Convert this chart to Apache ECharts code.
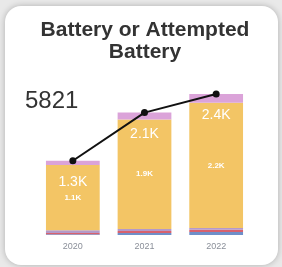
<!DOCTYPE html>
<html lang="en">
<head>
    <meta charset="UTF-8">
    <title>Battery or Attempted Battery</title>
    <script src="https://cdn.jsdelivr.net/npm/echarts@6/dist/echarts.min.js"></script>
    <style>
        html, body { margin: 0; padding: 0; background: #e9e9e9; }
        #main { width: 282px; height: 267px; }
    </style>
</head>
<body>
<div id="main"></div>
<script>
    // data
    var years = ['2020', '2021', '2022'];
    var blueVals   = [15, 35, 50];
    var redVals    = [20, 35, 40];
    var purpleVals = [45, 35, 30];
    var yellowVals = [1125, 1885, 2160];
    var pinkVals   = [75, 120, 151];
    var grandTotal = 5821;

    var totals = years.map(function (y, i) {
        return blueVals[i] + redVals[i] + purpleVals[i] + yellowVals[i] + pinkVals[i];
    });

    function fmtK(v) {
        return (v / 1000).toFixed(1) + 'K';
    }

    function stackBar(name, data, color, label) {
        return {
            name: name,
            type: 'bar',
            stack: 'total',
            barWidth: '75%',
            data: data,
            itemStyle: { color: color },
            label: label || { show: false },
            silent: true
        };
    }

    var chart = echarts.init(document.getElementById('main'));
    var option = {
        backgroundColor: '#e9e9e9',
        animation: false,
        graphic: [
            {
                type: 'rect',
                z: -10,
                shape: { x: 5, y: 6, width: 273, height: 259, r: 16 },
                style: { fill: '#fff', shadowBlur: 6, shadowColor: 'rgba(0,0,0,0.25)' }
            },
            {
                type: 'text',
                x: 145,
                y: 19,
                style: {
                    text: 'Battery or Attempted\nBattery',
                    font: 'bold 21px "Liberation Sans", Arial, sans-serif',
                    fill: '#333',
                    align: 'center',
                    lineHeight: 22
                }
            },
            {
                type: 'text',
                left: 25,
                top: 89,
                style: {
                    text: String(grandTotal),
                    font: '24px "Liberation Sans", Arial, sans-serif',
                    fill: '#333'
                }
            }
        ],
        grid: { left: 37, right: 30, top: 61, bottom: 32 },
        xAxis: {
            type: 'category',
            data: years,
            axisLine: { show: false },
            axisTick: { show: false },
            axisLabel: {
                color: '#8a8f99',
                fontSize: 9,
                fontFamily: 'Liberation Sans',
                margin: 7
            }
        },
        yAxis: {
            type: 'value',
            min: 0,
            max: 3000,
            show: false,
            splitLine: { show: false }
        },
        series: [
            stackBar('blue', blueVals, '#6f8fc9'),
            stackBar('red', redVals, '#d8616e'),
            stackBar('purple', purpleVals, '#b49ac9'),
            stackBar('yellow', yellowVals, '#f3c565', {
                show: true,
                position: 'inside',
                color: '#fff',
                fontSize: 8,
                fontWeight: 'bold',
                fontFamily: 'Liberation Sans',
                formatter: function (p) { return fmtK(p.value); }
            }),
            stackBar('pink', pinkVals, '#dba3d9'),
            {
                name: 'total',
                type: 'line',
                data: totals,
                symbol: 'circle',
                symbolSize: 7,
                z: 10,
                lineStyle: { color: '#111', width: 2 },
                itemStyle: { color: '#111' },
                label: {
                    show: true,
                    position: 'bottom',
                    distance: 11,
                    color: '#fff',
                    fontSize: 14,
                    fontFamily: 'Liberation Sans',
                    formatter: function (p) { return fmtK(p.value); }
                },
                silent: true
            }
        ]
    };
    chart.setOption(option);
</script>
</body>
</html>
